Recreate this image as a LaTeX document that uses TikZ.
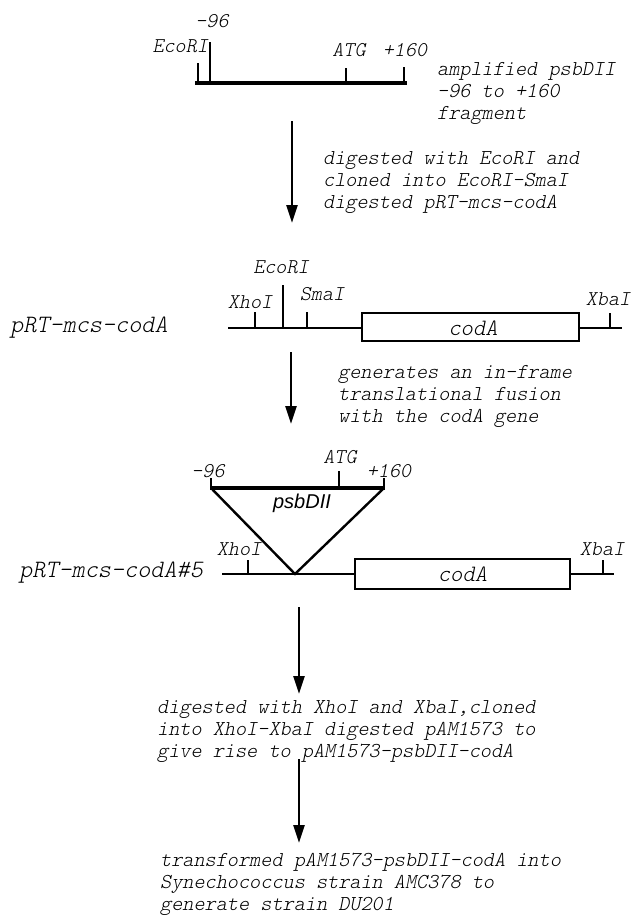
\documentclass[tikz,border=0pt]{standalone}
\usepackage{fontspec}
\usetikzlibrary{arrows.meta}
\newfontfamily\courfont[FakeSlant=0.2]{Latin Modern Mono Light}
\newfontfamily\arialfont{Liberation Sans}
\begin{document}
\begin{tikzpicture}[x=1pt,y=-1pt,
  lbl/.style={font=\courfont\fontsize{21}{21}\selectfont, inner sep=0pt},
  captxt/.style={font=\courfont\fontsize{21.2}{22}\selectfont, inner sep=0pt, align=left, anchor=north west},
  big/.style={font=\courfont\fontsize{25}{25}\selectfont, inner sep=0pt, anchor=west},
  genetxt/.style={font=\courfont\fontsize{23.5}{23.5}\selectfont, inner sep=0pt},
  dna/.style={line width=2.4pt},
  frag/.style={line width=3.6pt},
  tickline/.style={line width=2.4pt},
  gene/.style={draw, line width=2.4pt, fill=white, inner sep=0pt},
  flow/.style={line width=2.5pt,-{Triangle[width=11pt,length=18pt]}}]
\useasboundingbox (0,0) rectangle (637,919);

% ---------- amplified fragment ----------
\coordinate (fa) at (197,83);
\coordinate (fb) at (405,83);
\draw[frag,line cap=rect] (fa) -- (fb);
\draw[tickline] (198,83) -- (198,63);
\draw[tickline] (210,83) -- (210,42);
\draw[tickline] (346,83) -- (346,68);
\draw[tickline] (404,83) -- (404,67);
\node[lbl] (m96a) at (212,21) {-96};
\node[lbl,anchor=east] (ecoa) at (208,46) {EcoRI};
\node[lbl] (atga) at (349,50) {ATG};
\node[lbl] (p160a) at (405,50) {+160};
\node[captxt] (capa) at (437,62) {amplified psbDII\\-96 to +160\\fragment};

% ---------- arrow 1 ----------
\coordinate (a1s) at (292,121);
\coordinate (a1e) at (292,223);
\draw[flow] (a1s) -- (a1e);
\node[captxt] (cap1) at (323,151) {digested with EcoRI and\\cloned into EcoRI-SmaI\\digested pRT-mcs-codA};

% ---------- pRT-mcs-codA ----------
\node[big] (prt) at (10,328) {pRT-mcs-codA};
\coordinate (l1a) at (228,328);
\coordinate (l1b) at (622,328);
\draw[dna] (l1a) -- (l1b);
\node[gene, minimum width=217pt, minimum height=28pt] (coda1) at (470.5,327) {};
\node[genetxt] at (473,328) {codA};
\draw[tickline] (255,328) -- (255,312);
\draw[tickline] (283,328) -- (283,285);
\draw[tickline] (307,328) -- (307,312);
\draw[tickline] (610,328) -- (610,313);
\node[lbl] (xho1) at (250,302) {XhoI};
\node[lbl] (eco1) at (281,267) {EcoRI};
\node[lbl] (sma1) at (322,294) {SmaI};
\node[lbl] (xba1) at (608,299) {XbaI};

% ---------- arrow 2 ----------
\coordinate (a2s) at (291,352);
\coordinate (a2e) at (291,424);
\draw[flow] (a2s) -- (a2e);
\node[captxt] (cap2) at (338,365) {generates an in-frame\\translational fusion\\with the codA gene};

% ---------- pRT-mcs-codA#5 ----------
\coordinate (pl) at (211,488);
\coordinate (pr) at (384,488);
\coordinate (apex) at (295,574);
\draw[line width=2.4pt,line join=miter] (pl) -- (apex) -- (pr);
\draw[frag] (pl) -- (pr);
\draw[tickline] (211,490) -- (211,478);
\draw[tickline] (339,488) -- (339,471);
\draw[tickline] (384,490) -- (384,478);
\node[lbl] (m96b) at (208,471) {-96};
\node[lbl] (atgb) at (340,457) {ATG};
\node[lbl] (p160b) at (389,471) {+160};
\node[font=\arialfont\itshape\fontsize{20}{20}\selectfont, inner sep=0pt] (psb) at (302,503) {psbDII};

\node[big] (prt5) at (19,573) {pRT-mcs-codA\#5};
\coordinate (l2a) at (222,574);
\coordinate (l2b) at (614,574);
\draw[dna] (l2a) -- (l2b);
\node[gene, minimum width=215pt, minimum height=30pt] (coda2) at (462.5,574) {};
\node[genetxt] at (coda2) {codA};
\draw[tickline] (248,574) -- (248,560);
\draw[tickline] (603,574) -- (603,560);
\node[lbl] (xho2) at (239,549) {XhoI};
\node[lbl] (xba2) at (602,549) {XbaI};

% ---------- arrow 3 ----------
\coordinate (a3s) at (299,607);
\coordinate (a3e) at (299,694);
\draw[flow] (a3s) -- (a3e);
\node[captxt] (cap3) at (157,700) {digested with XhoI and XbaI,cloned\\into XhoI-XbaI digested pAM1573 to\\give rise to pAM1573-psbDII-codA};

% ---------- arrow 4 ----------
\coordinate (a4s) at (299,759);
\coordinate (a4e) at (299,843);
\draw[flow] (a4s) -- (a4e);
\node[captxt] (cap4) at (160,853) {transformed pAM1573-psbDII-codA into\\Synechococcus strain AMC378 to\\generate strain DU201};
\end{tikzpicture}
\end{document}
